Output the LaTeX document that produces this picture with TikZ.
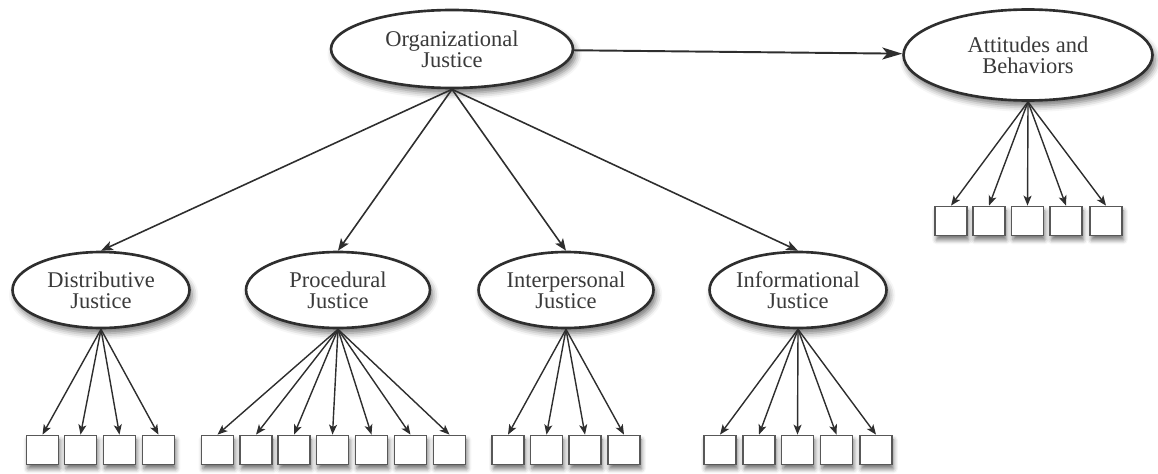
\documentclass[tikz,border=0pt]{standalone}
\usepackage{fontspec}
\setmainfont{Liberation Serif}
\usetikzlibrary{shapes.geometric,arrows.meta,shadows.blur}
\definecolor{inkline}{HTML}{2E2E2E}
\definecolor{inktext}{HTML}{3A3A3A}
\tikzset{
  construct/.style={ellipse, draw=inkline, line width=1.5pt, fill=white, inner sep=0pt,
    minimum height=1.52cm, text=inktext, align=center,
    font=\fontsize{12.8}{11.8}\selectfont,
    blur shadow={shadow xshift=1.5pt, shadow yshift=-3pt, shadow blur radius=3.5pt, shadow opacity=55}},
  itembox/.style={rectangle, draw=inkline!80, line width=1pt, fill=white,
    minimum width=0.64cm, minimum height=0.58cm, inner sep=0pt,
    blur shadow={shadow xshift=0.8pt, shadow yshift=-2.5pt, shadow blur radius=2.5pt, shadow opacity=55}},
  path/.style={draw=inkline, line width=0.9pt, -{Stealth[length=0.24cm, width=0.19cm, inset=0.06cm]}},
  load/.style={draw=inkline, line width=0.8pt, -{Stealth[length=0.2cm, width=0.16cm, inset=0.05cm]}},
  main/.style={draw=inkline, line width=1.1pt, -{Stealth[length=0.4cm, width=0.24cm, inset=0.1cm]}}
}
\begin{document}
\begin{tikzpicture}[x=0.02cm, y=-0.02cm]
  \useasboundingbox (0,0) rectangle (1158,473);

  % latent constructs
  \node[construct, minimum width=4.84cm, minimum height=1.56cm] (org) at (452,49) {Organizational\\Justice};
  \node[construct, minimum width=4.98cm, minimum height=1.82cm] (att) at (1028,55) {Attitudes and\\Behaviors};
  \node[construct, minimum width=3.54cm] (dist)  at (101,290) {Distributive\\Justice};
  \node[construct, minimum width=3.68cm] (proc)  at (338,290) {Procedural\\Justice};
  \node[construct, minimum width=3.50cm] (inter) at (566,290) {Interpersonal\\Justice};
  \node[construct, minimum width=3.54cm] (info)  at (798,290) {Informational\\Justice};

  % structural paths
  \draw[main] (org) -- (att);
  \foreach \d in {dist,proc,inter,info}
    \draw[path] (org.south) -- (\d.north);

  % indicators for each construct
  \foreach \x [count=\i] in {42.5,80.5,119.5,158.5} {
    \node[itembox] (dist\i) at (\x,450) {};
    \draw[load] (dist.south) -- (dist\i.north);
  }
  \foreach \x [count=\i] in {217.5,256,294,332.5,371.5,410.5,449.5} {
    \node[itembox] (proc\i) at (\x,450) {};
    \draw[load] (proc.south) -- (proc\i.north);
  }
  \foreach \x [count=\i] in {508,546.5,585,624} {
    \node[itembox] (inter\i) at (\x,450) {};
    \draw[load] (inter.south) -- (inter\i.north);
  }
  \foreach \x [count=\i] in {720,759,797.5,836.5,876} {
    \node[itembox] (info\i) at (\x,450) {};
    \draw[load] (info.south) -- (info\i.north);
  }
  \foreach \x [count=\i] in {951,989,1027.5,1066,1106} {
    \node[itembox] (att\i) at (\x,221) {};
    \draw[load] (att.south) -- (att\i.north);
  }
\end{tikzpicture}
\end{document}
